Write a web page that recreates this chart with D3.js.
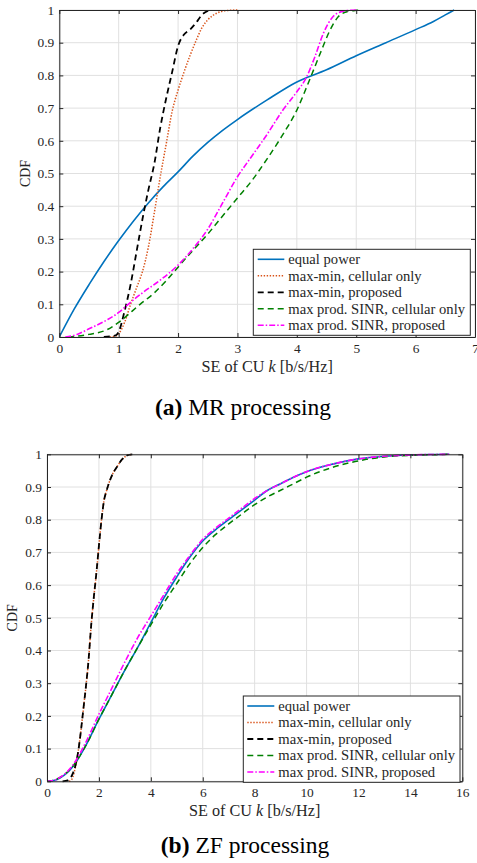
<!DOCTYPE html>
<html><head><meta charset="utf-8">
<script src="https://cdn.jsdelivr.net/npm/d3@7"></script>
<style>
html,body{margin:0;padding:0;background:#fff;}
svg{display:block;}
text{font-family:"Liberation Serif","Times New Roman",serif;fill:#262626;}
</style></head><body>
<svg id="chart" width="477" height="863"></svg>
<script>
// ---------- DATA ----------
const seriesNames = ["equal power","max-min, cellular only","max-min, proposed","max prod. SINR, cellular only","max prod. SINR, proposed"];

// (a) MR processing
const mrEqualX = [0,0.25,0.5,0.75,1,1.25,1.5,1.75,2,2.25,2.5,2.75,3,3.5,4,4.5,5,5.5,6,6.3,6.5,6.65];
const mrEqualY = [0,0.085,0.16,0.23,0.295,0.355,0.41,0.46,0.505,0.553,0.595,0.632,0.665,0.725,0.78,0.817,0.86,0.9,0.94,0.965,0.985,1.0];
const mrMaxMinCellX = [0.85,0.95,1.0,1.1,1.2,1.3,1.4,1.5,1.6,1.7,1.8,1.9,2.0,2.1,2.2,2.3,2.4,2.5,2.65,2.8,3.0];
const mrMaxMinCellY = [0,0.003,0.01,0.045,0.1,0.15,0.2,0.275,0.38,0.49,0.59,0.69,0.755,0.81,0.86,0.905,0.945,0.97,0.99,0.998,1.0];
const mrMaxMinPropX = [0.75,0.95,1.0,1.1,1.2,1.3,1.4,1.5,1.6,1.7,1.8,1.9,2.0,2.1,2.2,2.3,2.4,2.5,2.57];
const mrMaxMinPropY = [0,0.005,0.016,0.08,0.16,0.26,0.36,0.45,0.53,0.64,0.73,0.81,0.89,0.925,0.94,0.96,0.985,0.997,1.0];
const mrProdCellX = [0.15,0.5,0.8,1.0,1.36,1.6,1.81,2.03,2.25,2.5,2.75,3.0,3.25,3.5,3.75,4.0,4.2,4.4,4.55,4.7,4.85,5.0,5.1];
const mrProdCellY = [0,0.008,0.022,0.045,0.1,0.135,0.174,0.22,0.265,0.315,0.37,0.425,0.48,0.545,0.615,0.694,0.78,0.87,0.935,0.98,0.995,0.999,1.0];
const mrProdPropX = [0.1,0.3,0.5,0.8,1.0,1.16,1.4,1.7,2.0,2.25,2.5,2.75,3.0,3.25,3.5,3.75,4.0,4.15,4.3,4.45,4.6,4.75,4.9,5.0];
const mrProdPropY = [0,0.008,0.025,0.052,0.075,0.1,0.135,0.174,0.22,0.27,0.33,0.41,0.49,0.555,0.62,0.69,0.75,0.79,0.855,0.93,0.978,0.995,0.999,1.0];

// (b) ZF processing
const zfEqualX = [0,0.3,0.5,0.75,1.0,1.5,2.0,2.5,3.0,3.5,4.0,4.5,5,5.5,6,6.5,7,7.5,8,8.5,9,9.5,10,11,12,13,14,15,15.5];
const zfEqualY = [0,0.003,0.01,0.024,0.045,0.11,0.19,0.265,0.34,0.41,0.485,0.56,0.625,0.685,0.735,0.77,0.8,0.83,0.86,0.89,0.91,0.93,0.947,0.97,0.986,0.994,0.998,0.9995,1.0];
const zfMaxMinCellX = [0.85,0.95,1.0,1.1,1.2,1.3,1.4,1.5,1.6,1.7,1.8,1.9,2.0,2.1,2.2,2.3,2.4,2.5,2.7,2.9,3.1,3.3];
const zfMaxMinCellY = [0,0.005,0.015,0.045,0.09,0.15,0.22,0.29,0.37,0.475,0.56,0.635,0.72,0.8,0.86,0.89,0.915,0.935,0.962,0.985,0.997,1.0];
const zfMaxMinPropX = [0.6,0.8,0.9,1.0,1.1,1.2,1.3,1.4,1.5,1.6,1.7,1.8,1.9,2.0,2.1,2.2,2.3,2.4,2.5,2.7,2.9,3.1,3.3];
const zfMaxMinPropY = [0,0.003,0.01,0.025,0.05,0.09,0.15,0.22,0.29,0.37,0.475,0.56,0.635,0.72,0.8,0.86,0.89,0.915,0.935,0.962,0.985,0.997,1.0];
const zfProdCellX = [0,0.3,0.5,0.75,1.0,1.5,2.0,2.5,3.0,3.5,4.0,4.5,5,5.5,6,6.5,7,7.5,8,8.5,9,9.5,10,11,12,13,14,15,15.5];
const zfProdCellY = [0,0.004,0.012,0.026,0.047,0.11,0.19,0.265,0.34,0.41,0.478,0.545,0.605,0.665,0.715,0.755,0.787,0.817,0.846,0.87,0.89,0.91,0.93,0.96,0.98,0.992,0.997,0.999,1.0];
const zfProdPropX = [0,0.3,0.5,0.75,1.0,1.5,2.0,2.5,3.0,3.5,4.0,4.5,5,5.5,6,6.5,7,7.5,8,8.5,9,9.5,10,11,12,13,14,15,15.5];
const zfProdPropY = [0,0.004,0.012,0.027,0.05,0.12,0.205,0.285,0.365,0.44,0.505,0.57,0.635,0.69,0.74,0.775,0.805,0.835,0.865,0.89,0.91,0.93,0.947,0.97,0.986,0.994,0.998,0.9995,1.0];

const mrXTicks = [0,1,2,3,4,5,6,7];
const zfXTicks = [0,2,4,6,8,10,12,14,16];
const yTicks = [0,0.1,0.2,0.3,0.4,0.5,0.6,0.7,0.8,0.9,1];
const yTickLabels = ["0","0.1","0.2","0.3","0.4","0.5","0.6","0.7","0.8","0.9","1"];
const xLabel = "SE of CU ";
const captions = [["(a)"," MR processing"],["(b)"," ZF processing"]];

// ---------- STYLE ----------
const styles = [
  {color:"#0072BD", dash:null, width:1.6},
  {color:"#D95319", dash:"1.4,1.6", width:1.5},
  {color:"#000000", dash:"6,4", width:1.8},
  {color:"#008000", dash:"6,4", width:1.5},
  {color:"#FF00FF", dash:"6,2,1.5,2", width:1.6}
];

const svg = d3.select("#chart");

function drawPanel(cfg){
  const x = d3.scaleLinear().domain(cfg.xDomain).range([cfg.left, cfg.right]);
  const y = d3.scaleLinear().domain([0,1]).range([cfg.bottom, cfg.top]);
  const g = svg.append("g");
  // grid
  g.append("g").selectAll("line.vx").data(cfg.xTicks).join("line")
    .attr("x1",d=>x(d)).attr("x2",d=>x(d)).attr("y1",cfg.top).attr("y2",cfg.bottom)
    .attr("stroke","#e0e0e0").attr("stroke-width",1);
  g.append("g").selectAll("line.hy").data(yTicks).join("line")
    .attr("y1",d=>y(d)).attr("y2",d=>y(d)).attr("x1",cfg.left).attr("x2",cfg.right)
    .attr("stroke","#e0e0e0").attr("stroke-width",1);
  // lines
  const clipId = "clip"+cfg.id;
  svg.append("clipPath").attr("id",clipId).append("rect")
    .attr("x",cfg.left).attr("y",cfg.top-2).attr("width",cfg.right-cfg.left).attr("height",cfg.bottom-cfg.top+4);
  const line = d3.line().x(d=>x(d[0])).y(d=>y(d[1])).curve(d3.curveMonotoneX);
  cfg.series.forEach((s,i)=>{
    const pts = s[0].map((v,k)=>[v,s[1][k]]);
    g.append("path").datum(pts).attr("d",line)
      .attr("fill","none").attr("stroke",styles[i].color)
      .attr("stroke-width",styles[i].width)
      .attr("stroke-dasharray",styles[i].dash)
      .attr("clip-path","url(#"+clipId+")");
  });
  // axes
  const tickLen = 4;
  const xAxisB = d3.axisBottom(x).tickValues(cfg.xTicks).tickSizeInner(-tickLen).tickSizeOuter(0).tickPadding(6).tickFormat(d3.format("d"));
  const xAxisT = d3.axisTop(x).tickValues(cfg.xTicks).tickSizeInner(-tickLen).tickSizeOuter(0).tickFormat("");
  const yAxisL = d3.axisLeft(y).tickValues(yTicks).tickSizeInner(-tickLen).tickSizeOuter(0).tickPadding(5).tickFormat((d,i)=>yTickLabels[i]);
  const yAxisR = d3.axisRight(y).tickValues(yTicks).tickSizeInner(-tickLen).tickSizeOuter(0).tickFormat("");
  const style = sel=>{
    sel.selectAll("path.domain").attr("stroke","#262626").attr("stroke-width",1);
    sel.selectAll(".tick line").attr("stroke","#262626").attr("stroke-width",1);
    sel.selectAll("text").attr("fill","#262626").style("font-family","'Liberation Serif',serif").style("font-size","13.4px");
  };
  g.append("g").attr("transform",`translate(0,${cfg.bottom})`).call(xAxisB).call(style);
  g.append("g").attr("transform",`translate(0,${cfg.top})`).call(xAxisT).call(style);
  g.append("g").attr("transform",`translate(${cfg.left},0)`).call(yAxisL).call(style);
  g.append("g").attr("transform",`translate(${cfg.right},0)`).call(yAxisR).call(style);
  // axis labels
  const xl = g.append("text").attr("x",(cfg.left+cfg.right)/2).attr("y",cfg.bottom+35)
    .attr("text-anchor","middle").style("font-size","16.2px");
  xl.append("tspan").text(xLabel);
  xl.append("tspan").style("font-style","italic").text("k");
  xl.append("tspan").text(" [b/s/Hz]");
  g.append("text").attr("transform",`translate(${cfg.yLabelX},${(cfg.top+cfg.bottom)/2}) rotate(-90)`)
    .attr("text-anchor","middle").style("font-size","14px").text("CDF");
  // legend
  const L = cfg.legend;
  const lg = g.append("g");
  lg.append("rect").attr("x",L.x0).attr("y",L.y0).attr("width",L.x1-L.x0).attr("height",L.y1-L.y0)
    .attr("fill","#fff").attr("stroke","#262626").attr("stroke-width",1);
  seriesNames.forEach((n,i)=>{
    const yy = L.rowY + i*L.rowStep;
    lg.append("line").attr("x1",L.sx0).attr("x2",L.sx1).attr("y1",yy).attr("y2",yy)
      .attr("stroke",styles[i].color).attr("stroke-width",styles[i].width)
      .attr("stroke-dasharray",styles[i].dash);
    lg.append("text").attr("x",L.tx).attr("y",yy).attr("dy","0.33em")
      .style("font-size","14.6px").text(n);
  });
  // caption
  const c = svg.append("text").attr("x",cfg.capX).attr("y",cfg.capY).attr("text-anchor","middle")
    .style("font-size","23.5px").attr("fill","#000");
  c.append("tspan").style("font-weight","bold").attr("fill","#000").text(cfg.caption[0]);
  c.append("tspan").attr("fill","#000").text(cfg.caption[1]);
}

drawPanel({
  id:"a", xDomain:[0,7], xTicks:mrXTicks, left:59.3, right:475, top:10, bottom:337, yLabelX:30,
  series:[[mrEqualX,mrEqualY],[mrMaxMinCellX,mrMaxMinCellY],[mrMaxMinPropX,mrMaxMinPropY],[mrProdCellX,mrProdCellY],[mrProdPropX,mrProdPropY]],
  legend:{x0:253.3,x1:470.3,y0:249.3,y1:335.3,sx0:257.7,sx1:284.3,tx:288.3,rowY:259.3,rowStep:16.5},
  capX:243, capY:415, caption:captions[0]
});
drawPanel({
  id:"b", xDomain:[0,16], xTicks:zfXTicks, left:47, right:462.3, top:454.3, bottom:781.3, yLabelX:17,
  series:[[zfEqualX,zfEqualY],[zfMaxMinCellX,zfMaxMinCellY],[zfMaxMinPropX,zfMaxMinPropY],[zfProdCellX,zfProdCellY],[zfProdPropX,zfProdPropY]],
  legend:{x0:243.3,x1:460,y0:696,y1:782.3,sx0:247.3,sx1:274.3,tx:278.3,rowY:706,rowStep:16.5},
  capX:245, capY:853, caption:captions[1]
});
</script></body></html>
